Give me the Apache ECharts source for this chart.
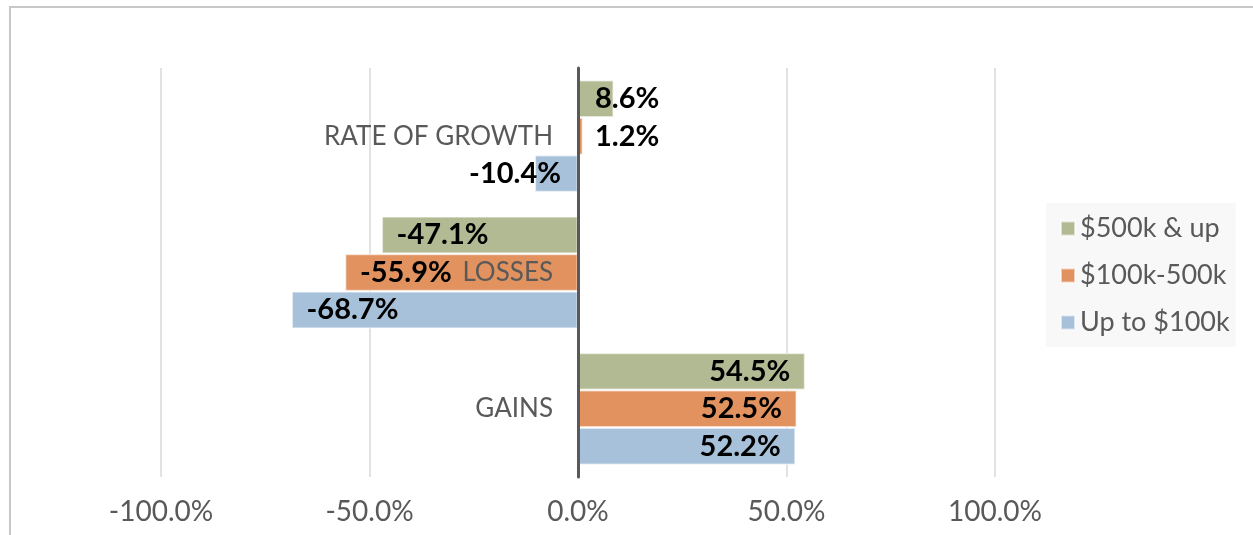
<!DOCTYPE html>
<html>
<head>
<meta charset="utf-8">
<script src="https://cdn.jsdelivr.net/npm/echarts@6/dist/echarts.min.js"></script>
<style>
  html, body { margin: 0; padding: 0; background: #fff; }
  #chart { width: 1253px; height: 535px; }
  #frame {
    position: absolute; left: 9px; top: 6px; width: 1300px; height: 600px;
    border-top: 2px solid #c8c8c8; border-left: 2px solid #c8c8c8;
    pointer-events: none;
  }
</style>
</head>
<body>
<div id="chart"></div>
<div id="frame"></div>
<script>
// categories bottom -> top
const categories = ['GAINS', 'LOSSES', 'RATE OF GROWTH'];
const seriesNames = ['$500k & up', '$100k-500k', 'Up to $100k'];
const big = [54.5, -47.1, 8.6];
const mid = [52.5, -55.9, 1.2];
const small = [52.2, -68.7, -10.4];
const xTicks = [-100, -50, 0, 50, 100];

const colors = {
  '$500k & up': '#b2ba93',
  '$100k-500k': '#e1925f',
  'Up to $100k': '#a6c1d9'
};
const font = 'Lato, "Noto Sans", sans-serif';

const gridLeft = 161, gridRight = 258;
const plotW = 1253 - gridLeft - gridRight;
// pixel offset that puts the category axis on x = 0
const zeroShift = plotW * (0 - xTicks[0]) / (xTicks[xTicks.length - 1] - xTicks[0]);

function labelFor(v) {
  // short bars: label sits just off the axis; long bars: inside the bar end
  let pos, dist;
  if (Math.abs(v) < 20) {
    pos = v >= 0 ? 'insideLeft' : 'insideRight';
    dist = 17;
  } else {
    pos = v >= 0 ? 'insideRight' : 'insideLeft';
    dist = 15;
  }
  return { position: pos, distance: dist };
}

function makeSeries(name, values) {
  return {
    name: name,
    type: 'bar',
    barGap: 0,
    barCategoryGap: '17.6%',
    itemStyle: {
      color: colors[name],
      borderColor: 'rgba(255,255,255,0.55)',
      borderWidth: 1.5
    },
    label: {
      show: true,
      color: '#000',
      fontFamily: font,
      fontWeight: 'bold',
      fontSize: 29,
      formatter: p => p.value.toFixed(1) + '%'
    },
    data: values.map(v => ({ value: v, label: labelFor(v) }))
  };
}

const chart = echarts.init(document.getElementById('chart'));
chart.setOption({
  animation: false,
  grid: { left: gridLeft, right: gridRight, top: 68, bottom: 58, outerBoundsMode: 'none' },
  legend: {
    data: seriesNames,
    orient: 'vertical',
    left: 1046,
    top: 203,
    backgroundColor: '#f8f8f8',
    padding: [12, 6, 11, 14],
    itemWidth: 14,
    itemHeight: 14,
    itemGap: 20,
    icon: 'rect',
    textStyle: { fontFamily: font, fontSize: 27, color: '#595959' }
  },
  xAxis: {
    type: 'value',
    min: xTicks[0],
    max: xTicks[xTicks.length - 1],
    interval: 50,
    axisLine: { show: false },
    axisTick: { show: false },
    splitLine: { show: true, lineStyle: { color: '#d9d9d9', width: 1.5 } },
    axisLabel: {
      margin: 21,
      fontFamily: font,
      fontSize: 28,
      color: '#595959',
      formatter: v => v.toFixed(1) + '%'
    }
  },
  yAxis: {
    type: 'category',
    data: categories,
    z: 5,
    offset: -zeroShift,
    axisLine: { onZero: false, lineStyle: { color: '#595959', width: 3 } },
    axisTick: { show: false },
    axisLabel: {
      margin: 25,
      fontFamily: font,
      fontSize: 26,
      color: '#595959'
    }
  },
  series: [
    makeSeries('$500k & up', big),
    makeSeries('$100k-500k', mid),
    makeSeries('Up to $100k', small)
  ]
});
</script>
</body>
</html>
